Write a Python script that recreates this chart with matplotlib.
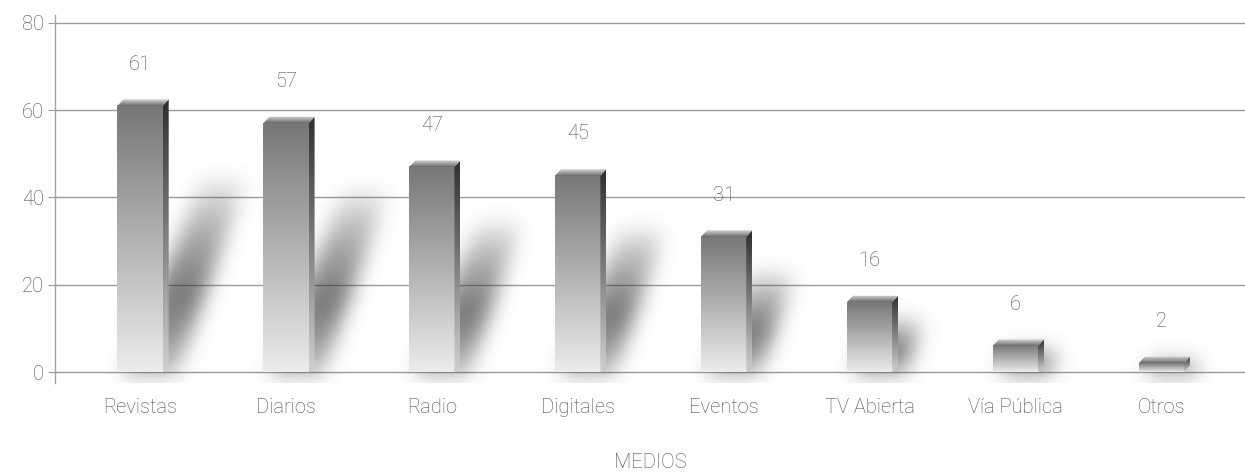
import numpy as np
import matplotlib
matplotlib.use("Agg")
import matplotlib.pyplot as plt
from matplotlib.colors import LinearSegmentedColormap
from matplotlib.patches import Polygon
from matplotlib.path import Path

categorias = ["Revistas", "Diarios", "Radio", "Digitales", "Eventos",
              "TV Abierta", "Vía Pública", "Otros"]
valores = [61, 57, 47, 45, 31, 16, 6, 2]
y_ticks = [0, 20, 40, 60, 80]

plt.rcParams["font.family"] = ["Roboto", "DejaVu Sans"]
plt.rcParams["font.weight"] = "light"
TXT = "#4d4d4d"
FS = 14.5

fig = plt.figure(figsize=(12.45, 4.75), dpi=100)
ax = fig.add_axes([0.0442, 0.1937, 0.9558, 0.7747])
XLIM = (-0.583, 7.574)
YLIM = (-2.5, 81.8)
ax.set_xlim(*XLIM)
ax.set_ylim(*YLIM)

# grid + axis styling
for s in ["top", "right", "bottom"]:
    ax.spines[s].set_visible(False)
ax.spines["left"].set_color("#a0a0a0")
ax.spines["left"].set_linewidth(1.0)
ax.set_yticks(y_ticks)
ax.yaxis.grid(True, color="#9a9a9a", linewidth=1.0, zorder=0)
ax.set_axisbelow(True)
ax.tick_params(axis="y", length=5, color="#9a9a9a", labelcolor=TXT,
               labelsize=FS, pad=3)
ax.set_xticks(range(len(categorias)))
ax.set_xticklabels(categorias)
ax.tick_params(axis="x", length=0, labelcolor=TXT, labelsize=FS, pad=11)
ax.set_xlabel("MEDIOS", color=TXT, fontsize=FS, fontweight="light", labelpad=26)

bar_w = 0.31
# pixel scale of the data axes
fig.canvas.draw()
p0 = ax.transData.transform((0, 0))
p1 = ax.transData.transform((1, 1))
px_x = p1[0] - p0[0]
px_y = p1[1] - p0[1]
dx = 6 / px_x
dy = 6.5 / px_y

# --- soft shadows, rasterised in pixel space and blurred ---
bb = ax.bbox
W, H = int(round(bb.width)), int(round(bb.height))
gx, gy = np.meshgrid(np.arange(W) + 0.5, np.arange(H) + 0.5)
pts = np.column_stack([gx.ravel(), gy.ravel()])
alpha = np.zeros(H * W)
for i, v in enumerate(valores):
    xl = ax.transData.transform((i - bar_w / 2, 0))[0] - bb.x0
    xr = ax.transData.transform((i + bar_w / 2 + dx, 0))[0] - bb.x0
    yb = ax.transData.transform((0, 0))[1] - bb.y0
    hs = 0.72 * v * px_y + 6
    sh = 0.38 * hs
    poly = Path([(xl + 4, yb - 6), (xr + 6, yb - 6), (xr + sh + 4, yb + hs),
                 (xl + sh + 12, yb + hs)])
    inside = poly.contains_points(pts)
    t = np.clip((pts[:, 1] - yb) / max(hs, 1), 0, 1)
    a = 0.95 * (1 - t) ** 0.7 * (0.3 + 0.7 * np.minimum(t / 0.4, 1))
    alpha = np.maximum(alpha, np.where(inside, a, 0))
alpha = alpha.reshape(H, W)


def blur(img, sigma):
    r = int(3 * sigma)
    k = np.exp(-0.5 * (np.arange(-r, r + 1) / sigma) ** 2)
    k /= k.sum()
    img = np.apply_along_axis(lambda row: np.convolve(row, k, mode="same"), 1, img)
    img = np.apply_along_axis(lambda col: np.convolve(col, k, mode="same"), 0, img)
    return img


alpha = blur(alpha, 10)
shadow = np.zeros((H, W, 4))
shadow[..., 0:3] = 0.2
shadow[..., 3] = np.clip(alpha, 0, 1)
ax.imshow(shadow, extent=(*XLIM, *YLIM), origin="lower", aspect="auto",
          zorder=1, interpolation="bilinear")

# --- 3D bars with gradients ---
front_cm = LinearSegmentedColormap.from_list("front", ["#ececec", "#777777"])
side_cm = LinearSegmentedColormap.from_list("side", ["#d0d0d0", "#2e2e2e"])
top_cm = LinearSegmentedColormap.from_list("top", ["#6a6a6a", "#d8d8d8"])
grad = np.linspace(0, 1, 256).reshape(-1, 1)

for i, v in enumerate(valores):
    x0 = i - bar_w / 2
    x1 = i + bar_w / 2
    ax.imshow(grad, extent=(x0, x1, 0, v), origin="lower", aspect="auto",
              cmap=front_cm, zorder=3)
    side = Polygon([(x1, 0), (x1 + dx, dy), (x1 + dx, v + dy), (x1, v)],
                   closed=True, facecolor="none", edgecolor="none")
    ax.add_patch(side)
    im = ax.imshow(grad, extent=(x1, x1 + dx, 0, v + dy), origin="lower",
                   aspect="auto", cmap=side_cm, zorder=3)
    im.set_clip_path(side)
    top = Polygon([(x0, v), (x1, v), (x1 + dx, v + dy), (x0 + dx, v + dy)],
                  closed=True, facecolor="none", edgecolor="none")
    ax.add_patch(top)
    im = ax.imshow(grad, extent=(x0, x1 + dx, v, v + dy), origin="lower",
                   aspect="auto", cmap=top_cm, zorder=3)
    im.set_clip_path(top)
    ax.annotate(str(v), (i, v), xytext=(0, 30), textcoords="offset points",
                ha="center", va="center", color=TXT, fontsize=FS)

ax.set_xlim(*XLIM)
ax.set_ylim(*YLIM)
fig.savefig("out.png", dpi=100)
